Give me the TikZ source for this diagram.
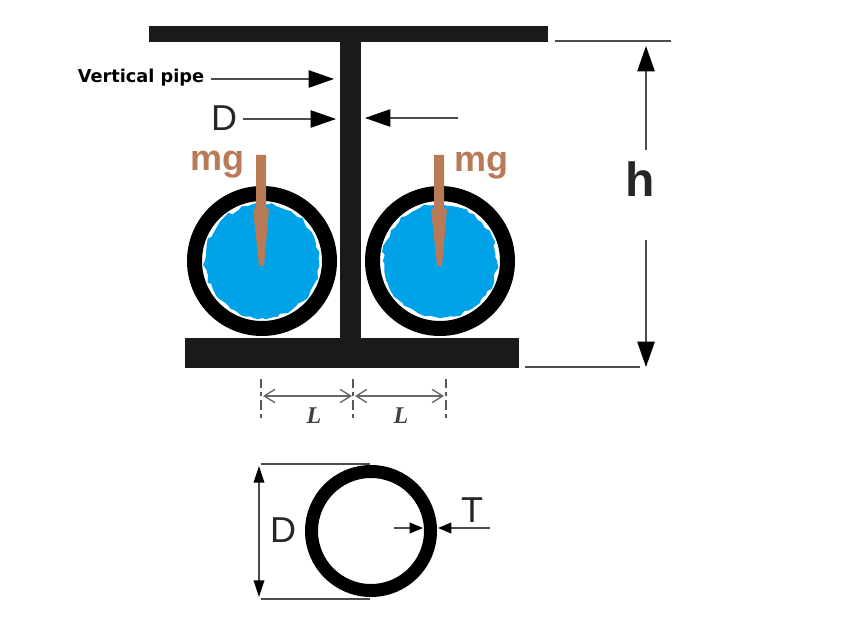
\documentclass[tikz,border=0pt]{standalone}
\usepackage{fontspec}
\setmainfont{Liberation Sans}
\newfontfamily\widefont{DejaVu Sans}
\newfontfamily\serifont{Liberation Serif}
\usetikzlibrary{arrows.meta,decorations.pathmorphing}
\definecolor{pipeblack}{HTML}{1A1A1A}
\definecolor{waterblue}{HTML}{00A2E8}
\definecolor{loadbrown}{HTML}{B97A57}
\tikzset{
  dimline/.style={draw=black!70, line width=1.1pt},
  bigtip/.style={-{Triangle[length=19pt,width=13pt,color=black]}},
  smalltip/.style={-{Triangle[length=10pt,width=8pt,color=black]}},
  bothtip/.style={{Triangle[length=12.5pt,width=8pt,color=black]}-{Triangle[length=12.5pt,width=8pt,color=black]}},
  opentip/.style={draw=black!60, line width=1pt, {Straight Barb[length=8pt,width=10pt]}-{Straight Barb[length=8pt,width=10pt]}},
  centerline/.style={draw=black!65, line width=0.9pt, dash pattern=on 7pt off 3pt on 3pt off 3pt},
  ring/.style={draw=black, fill=white},
  mglabel/.style={text=loadbrown, font=\fontsize{27}{27}\selectfont\bfseries},
  blacklabel/.style={text=black!85, font=\fontsize{27}{27}\selectfont},
  spanlabel/.style={text=black!75, font=\serifont\fontsize{18}{18}\selectfont\itshape\bfseries},
  water/.style={fill=waterblue, decorate, decoration={random steps,segment length=4pt,amplitude=1.4pt}}
}
\begin{document}
\begin{tikzpicture}[x=0.75pt, y=-0.75pt]
  \useasboundingbox (0,0) rectangle (862,634);

  % beam
  \fill[pipeblack] (149,26) rectangle (548,42);
  \fill[pipeblack] (340,42) rectangle (361,338);
  \fill[pipeblack] (185,338) rectangle (519,368);

  % filled pipes
  \foreach \cx in {262, 440} {
    \draw[ring, line width=11.25pt] (\cx,261) circle (67.5);
    \path[water] (\cx,261) circle (57);
    \fill[loadbrown] (\cx-6,155) -- (\cx+4,155) -- (\cx+4,209) -- (\cx+7,209) -- (\cx+2,266) -- (\cx-3,266) -- (\cx-9,209) -- (\cx-6,209) -- cycle;
  }
  \node[mglabel] (mgleft) at (217,165) {mg};
  \node[mglabel] (mgright) at (481,166) {mg};

  % labels on the web
  \node[font=\widefont\fontsize{13.3}{13.3}\selectfont\bfseries] (vpipe) at (141,78) {Vertical pipe};
  \coordinate (vpipetip) at (334,79);
  \draw[dimline, bigtip] (211,79) -- (vpipetip);

  \node[blacklabel] (dleft) at (224,118) {D};
  \coordinate (webleft) at (336,119);
  \coordinate (webright) at (365,118);
  \coordinate (dright) at (458,118);
  \draw[dimline, bigtip] (243,119) -- (webleft);
  \draw[dimline, bigtip] (dright) -- (webright);

  % height
  \node[blacklabel, font=\fontsize{36}{36}\selectfont\bfseries] (hlabel) at (640,179) {h};
  \coordinate (htop) at (646,46);
  \coordinate (hbot) at (646,367);
  \draw[dimline] (555,41) -- (671,41);
  \draw[dimline] (525,367) -- (640,367);
  \draw[dimline, bigtip] (646,150) -- (htop);
  \draw[dimline, bigtip] (646,240) -- (hbot);

  % spacing
  \coordinate (la) at (263,396);
  \coordinate (lb) at (352,396);
  \coordinate (lbb) at (355,396);
  \coordinate (lc) at (444,396);
  \foreach \x in {261,353,446}
    \draw[centerline] (\x,379) -- (\x,418);
  \draw[opentip] (la) -- (lb);
  \draw[opentip] (lbb) -- (lc);
  \node[spanlabel] (lleft) at (314,416) {L};
  \node[spanlabel] (lright) at (401,416) {L};

  % section
  \draw[ring, line width=9.75pt] (371,531) circle (59.5);
  \coordinate (dtop) at (259,466);
  \coordinate (dbot) at (259,597);
  \draw[dimline] (261,464) -- (370,464);
  \draw[dimline] (261,599) -- (370,599);
  \draw[dimline, bothtip] (dtop) -- (dbot);
  \node[blacklabel] (dsec) at (283,530) {D};
  \node[blacklabel] (tsec) at (472,510) {T};
  \coordinate (tin) at (423,528);
  \coordinate (tout) at (438,528);
  \draw[dimline, smalltip] (394,528) -- (tin);
  \draw[dimline, smalltip] (490,528) -- (tout);
\end{tikzpicture}
\end{document}
